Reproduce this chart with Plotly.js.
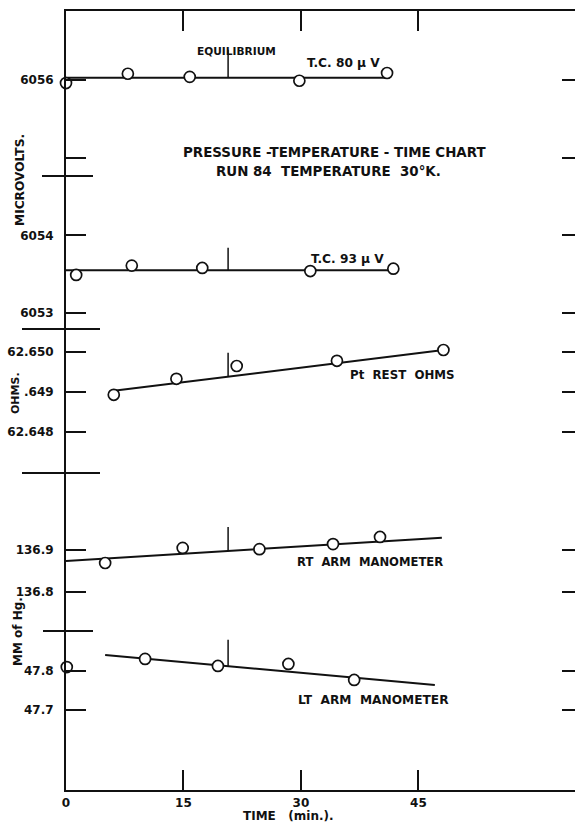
<!DOCTYPE html>
<html>
<head>
<meta charset="utf-8">
<script src="https://cdn.plot.ly/plotly-3.0.1.min.js"></script>
<style>
  html, body { margin: 0; padding: 0; background: #fff; }
  #chart { width: 575px; height: 823px; }
</style>
</head>
<body>
<div id="chart"></div>
<script>
// ---------------- DATA ----------------
// Time axis (minutes)
const timeTickVals = [0, 15, 30, 45];
const timeTickText = ['0', '15', '30', '45'];
const equilibriumTime = 20.7;

// Thermocouple, T.C. 80 µV (microvolts)
const tc80Time = [0, 7.9, 15.8, 29.8, 41.0];
const tc80Microvolts = [6055.96, 6056.08, 6056.04, 6055.99, 6056.09];
const tc80FitTime = [0, 41.0];
const tc80FitMicrovolts = [6056.03, 6056.03];
const tc80EquilibriumMark = [6056.39, 6056.03];

// Thermocouple, T.C. 93 µV (microvolts)
const tc93Time = [1.3, 8.4, 17.4, 31.2, 41.8];
const tc93Microvolts = [6053.49, 6053.61, 6053.58, 6053.54, 6053.57];
const tc93FitTime = [0, 41.8];
const tc93FitMicrovolts = [6053.55, 6053.55];
const tc93EquilibriumMark = [6053.84, 6053.55];

// Pt resistance thermometer (ohms)
const ptTime = [6.1, 14.1, 21.8, 34.6, 48.2];
const ptOhms = [62.64893, 62.64933, 62.64965, 62.64978, 62.65005];
const ptFitTime = [6.1, 48.2];
const ptFitOhms = [62.64903, 62.65005];
const ptEquilibriumMark = [62.64998, 62.64938];

// Right arm manometer (mm of Hg)
const rtTime = [5.0, 14.9, 24.7, 34.1, 40.1];
const rtMmHg = [136.869, 136.905, 136.902, 136.914, 136.931];
const rtFitTime = [0, 48.0];
const rtFitMmHg = [136.874, 136.929];
const rtEquilibriumMark = [136.955, 136.898];

// Left arm manometer (mm of Hg)
const ltTime = [0.1, 10.1, 19.4, 28.4, 36.8];
const ltMmHg = [47.810, 47.831, 47.813, 47.818, 47.777];
const ltFitTime = [5.0, 47.1];
const ltFitMmHg = [47.841, 47.764];
const ltEquilibriumMark = [47.880, 47.812];

// Axis ticks
const uvTickVals = [6053, 6054, 6055, 6056];
const uvTickText = ['6053', '6054', '', '6056'];
const ohmTickVals = [62.648, 62.649, 62.650];
const ohmTickText = ['62.648', '.649', '62.650'];
const rtTickVals = [136.8, 136.9];
const rtTickText = ['136.8', '136.9'];
const ltTickVals = [47.7, 47.8];
const ltTickText = ['47.7', '47.8'];

// ---------------- LAYOUT HELPERS ----------------
const W = 575, H = 823;
const L = 66, R = 575, T = 11, B = 790;
const px2x = px => (px - L) / (R - L);
const py2y = py => (B - py) / (B - T);

const INK = '#111';
const FONT = 'DejaVu Sans';
const xRange = [0, 65.0];
const uvRange = [6052.794, 6056.888];
const ohmRange = [62.646975, 62.650575];
const rtRange = [136.7095, 137.0833];
const ltRange = [47.4949, 47.9051];

const dUv = [py2y(329), 1];
const dOhm = [py2y(473), py2y(329)];
const dRt = [py2y(630), py2y(473)];
const dLt = [0, py2y(630)];

function fitTrace(x, y, ya) {
  return { x, y, xaxis: 'x', yaxis: ya, mode: 'lines', type: 'scatter',
           line: { color: INK, width: 2 }, hoverinfo: 'skip', showlegend: false, cliponaxis: false };
}
function pointTrace(x, y, ya, name) {
  return { x, y, xaxis: 'x', yaxis: ya, mode: 'markers', type: 'scatter', name,
           marker: { symbol: 'circle', size: 11, color: '#fff', line: { color: INK, width: 1.7 } },
           showlegend: false, cliponaxis: false };
}
function eqTrace(yv, ya) {
  return { x: [equilibriumTime, equilibriumTime], y: yv, xaxis: 'x', yaxis: ya, mode: 'lines',
           type: 'scatter', line: { color: INK, width: 1.5 }, hoverinfo: 'skip', showlegend: false };
}
function dummy(xa, ya) {
  return { x: [null], y: [null], xaxis: xa, yaxis: ya, mode: 'markers', type: 'scatter',
           hoverinfo: 'skip', showlegend: false };
}

const data = [
  fitTrace(tc80FitTime, tc80FitMicrovolts, 'y'),
  eqTrace(tc80EquilibriumMark, 'y'),
  pointTrace(tc80Time, tc80Microvolts, 'y', 'T.C. 80 µV'),
  fitTrace(tc93FitTime, tc93FitMicrovolts, 'y'),
  eqTrace(tc93EquilibriumMark, 'y'),
  pointTrace(tc93Time, tc93Microvolts, 'y', 'T.C. 93 µV'),
  fitTrace(ptFitTime, ptFitOhms, 'y2'),
  eqTrace(ptEquilibriumMark, 'y2'),
  pointTrace(ptTime, ptOhms, 'y2', 'Pt rest ohms'),
  fitTrace(rtFitTime, rtFitMmHg, 'y3'),
  eqTrace(rtEquilibriumMark, 'y3'),
  pointTrace(rtTime, rtMmHg, 'y3', 'Rt arm manometer'),
  fitTrace(ltFitTime, ltFitMmHg, 'y4'),
  eqTrace(ltEquilibriumMark, 'y4'),
  pointTrace(ltTime, ltMmHg, 'y4', 'Lt arm manometer'),
  dummy('x2', 'y'),
  dummy('x', 'y5'), dummy('x', 'y6'), dummy('x', 'y7'), dummy('x', 'y8')
];

const tickFont = { family: FONT, size: 12, color: INK, weight: 'bold' };

function leftAxis(domain, range, vals, text) {
  return { domain, range, anchor: 'x', tickmode: 'array', tickvals: vals, ticktext: text,
           ticks: 'inside', ticklen: 20, tickwidth: 2, tickcolor: INK,
           showline: true, linewidth: 2, linecolor: INK, showgrid: false, zeroline: false,
           tickfont: tickFont, ticklabelstandoff: 8, fixedrange: true };
}
function rightAxis(over, range, vals) {
  return { overlaying: over, side: 'right', anchor: 'x', range, tickmode: 'array', tickvals: vals,
           ticks: 'inside', ticklen: 13, tickwidth: 2, tickcolor: INK, showticklabels: false,
           showline: false, showgrid: false, zeroline: false, fixedrange: true };
}

function ann(text, px, py, size, extra) {
  return Object.assign({ text, x: px2x(px), y: py2y(py), xref: 'paper', yref: 'paper',
           showarrow: false, xanchor: 'center', yanchor: 'middle',
           font: { family: FONT, size, color: INK, weight: 'bold' } }, extra || {});
}

function sep(py, x0, x1) {
  return { type: 'line', xref: 'paper', yref: 'paper', x0: px2x(x0), x1: px2x(x1),
           y0: py2y(py), y1: py2y(py), line: { color: INK, width: 2 } };
}

const layout = {
  width: W, height: H,
  margin: { l: L, r: W - R, t: T, b: H - B, pad: 0 },
  paper_bgcolor: '#fff', plot_bgcolor: '#fff',
  showlegend: false,
  xaxis: { domain: [0, 1], range: xRange, anchor: 'y4', tickmode: 'array',
           tickvals: timeTickVals, ticktext: timeTickText,
           ticks: 'inside', ticklen: 20, tickwidth: 2, tickcolor: INK,
           showline: true, linewidth: 2, linecolor: INK, showgrid: false, zeroline: false,
           tickfont: tickFont, ticklabelstandoff: 1, fixedrange: true },
  xaxis2: { overlaying: 'x', side: 'top', anchor: 'y', range: xRange, tickmode: 'array',
            tickvals: [15, 30, 45], ticks: 'inside', ticklen: 20, tickwidth: 2, tickcolor: INK,
            showticklabels: false, showline: true, linewidth: 2, linecolor: INK,
            showgrid: false, zeroline: false, fixedrange: true },
  yaxis: leftAxis(dUv, uvRange, uvTickVals, uvTickText),
  yaxis2: leftAxis(dOhm, ohmRange, ohmTickVals, ohmTickText),
  yaxis3: leftAxis(dRt, rtRange, rtTickVals, rtTickText),
  yaxis4: leftAxis(dLt, ltRange, ltTickVals, ltTickText),
  yaxis5: rightAxis('y', uvRange, uvTickVals),
  yaxis6: rightAxis('y2', ohmRange, ohmTickVals),
  yaxis7: rightAxis('y3', rtRange, rtTickVals),
  yaxis8: rightAxis('y4', ltRange, ltTickVals),
  shapes: [
    sep(176, 42, 93),
    sep(329, 22, 100),
    sep(473, 22, 100),
    sep(631, 43, 93)
  ],
  annotations: [
    ann('EQUILIBRIUM', 236, 51, 10.6),
    ann('T.C. 80 μ V', 343, 63, 12.2),
    ann('T.C. 93 μ V', 347, 259, 12.2),
    ann('PRESSURE -TEMPERATURE - TIME CHART', 334, 152, 13.4),
    ann('RUN 84  TEMPERATURE  30°K.', 328, 172, 13.4),
    ann('Pt  REST  OHMS', 402, 375, 11.8),
    ann('RT  ARM  MANOMETER', 370, 562, 11.6),
    ann('LT  ARM  MANOMETER', 373, 700, 12.2),
    ann('MICROVOLTS.', 20, 180, 12.2, { textangle: -90 }),
    ann('OHMS.', 15, 393, 11, { textangle: -90 }),
    ann('MM of Hg.', 18, 632, 12, { textangle: -90 }),
    ann('TIME   (min.).', 288, 816, 12)
  ]
};

Plotly.newPlot('chart', data, layout, { staticPlot: true, displayModeBar: false });
</script>
</body>
</html>
